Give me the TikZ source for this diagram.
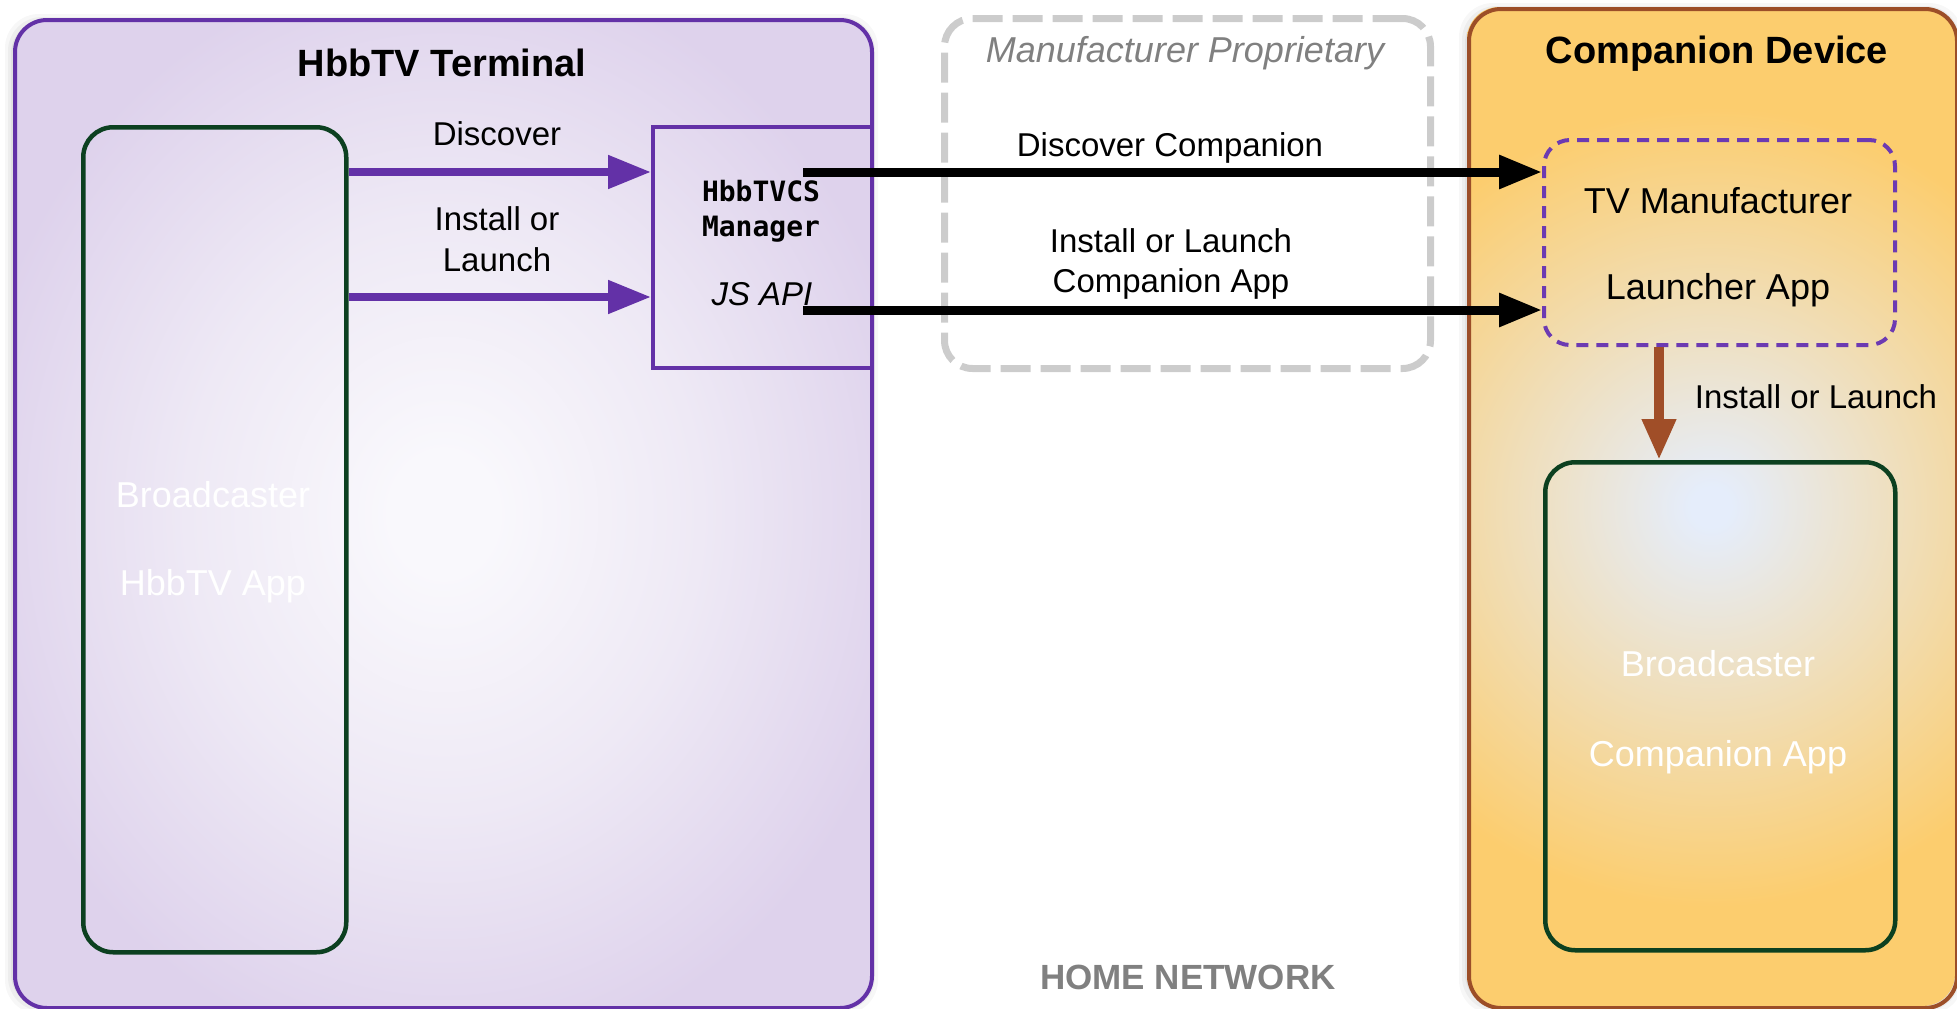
\documentclass[tikz,border=0pt]{standalone}
\usepackage{fontspec}
\setmainfont{Liberation Sans}
\newfontfamily\codefont{DejaVu Sans Mono}
\usetikzlibrary{arrows.meta}
\definecolor{pur}{RGB}{99,49,167}
\definecolor{dpur}{RGB}{108,58,178}
\definecolor{appgreen}{RGB}{12,64,32}
\definecolor{brn}{RGB}{156,78,40}
\definecolor{arrbrn}{RGB}{160,78,40}
\definecolor{lgray}{RGB}{204,204,204}
\definecolor{tgray}{RGB}{128,128,128}
\definecolor{lavin}{RGB}{249,248,252}
\definecolor{lavmid}{RGB}{238,233,245}
\definecolor{lavout}{RGB}{222,210,236}
\definecolor{orin}{RGB}{229,237,251}
\definecolor{orout}{RGB}{252,205,110}
\pgfdeclareradialshading{lavshade}{\pgfpoint{0bp}{0bp}}{color(0bp)=(lavin); color(3bp)=(lavin); color(15bp)=(lavmid); color(28bp)=(lavout); color(50bp)=(lavout)}
\pgfdeclareradialshading{orshade}{\pgfpoint{0bp}{0bp}}{color(0bp)=(orin); color(1bp)=(orin); color(20bp)=(orout); color(50bp)=(orout)}
\begin{document}
\begin{tikzpicture}[x=1pt,y=-1pt,
  outerbox/.style={draw, line width=4pt, rounded corners=32pt, inner sep=0pt, anchor=north west},
  appbox/.style={draw=appgreen, line width=4.5pt, rounded corners=30pt, inner sep=0pt, anchor=north west},
  mgrbox/.style={draw=pur, line width=4pt, inner sep=0pt, anchor=north west},
  propbox/.style={draw=lgray, line width=7pt, dash pattern=on 30pt off 10pt, rounded corners=28pt, inner sep=0pt, anchor=north west},
  launchbox/.style={draw=dpur, line width=4pt, dash pattern=on 12pt off 8pt, rounded corners=26pt, inner sep=0pt, anchor=north west},
  lbl/.style={inner sep=0pt, anchor=base, font=\fontsize{33}{40}\selectfont},
  boxtxt/.style={inner sep=0pt, anchor=base, font=\fontsize{36}{42}\selectfont},
  apptxt/.style={inner sep=0pt, anchor=base, text=white, font=\fontsize{36}{42}\selectfont},
  title/.style={inner sep=0pt, anchor=base, font=\fontsize{38}{44}\selectfont\bfseries},
  codetxt/.style={inner sep=0pt, anchor=base, font=\fontsize{28}{32}\selectfont\codefont\bfseries},
  parrow/.style={draw=pur, line width=8pt, -{Triangle[length=43pt,width=32pt]}},
  karrow/.style={draw=black, line width=9pt, -{Triangle[length=43pt,width=32pt]}},
  barrow/.style={draw=arrbrn, line width=10pt, -{Triangle[length=41pt,width=32pt]}}
]
\useasboundingbox (0,0) rectangle (1957,1009);
% soft shadows
\foreach \o/\op in {8/0.03,5/0.04,2/0.05}{
  \fill[black, opacity=\op, rounded corners=34pt] (13-\o,18-\o+4) rectangle (870+\o,1006+\o);
  \fill[black, opacity=\op, rounded corners=34pt] (1467-\o,7-\o+4) rectangle (1955+\o,1006+\o);
}
% HbbTV terminal
\node[outerbox, draw=pur, shading=lavshade, minimum width=857pt, minimum height=988pt] (term) at (13,18) {};
\node[appbox, minimum width=263pt, minimum height=825pt] (bapp) at (81,125) {};
\node[mgrbox, minimum width=219pt, minimum height=241pt] (mgr) at (651,125) {};
% manufacturer proprietary
\node[propbox, minimum width=486pt, minimum height=350pt] (prop) at (941,15) {};
% companion device: circular gradient clipped to the box
\begin{scope}
  \clip[rounded corners=32pt] (1467,7) rectangle (1955,1006);
  \shade[shading=orshade] (1211,7) rectangle (2211,1007);
\end{scope}
\node[outerbox, draw=brn, minimum width=488pt, minimum height=999pt] (comp) at (1467,7) {};
\node[launchbox, minimum width=351pt, minimum height=205pt] (launch) at (1542,138) {};
\node[appbox, minimum width=350pt, minimum height=488pt] (capp) at (1543,460) {};
% helper coordinates
\coordinate (ya) at (0,172);
\coordinate (yb) at (0,297);
\coordinate (s1) at (803,172);
\coordinate (s2) at (803,310);
\coordinate (bx) at (1659,0);
% connectors
\draw[parrow] (bapp.east |- ya) -- (mgr.west |- ya);
\draw[parrow] (bapp.east |- yb) -- (mgr.west |- yb);
\draw[karrow] (s1) -- (launch.west |- s1);
\draw[karrow] (s2) -- (launch.west |- s2);
\draw[barrow] (launch.south -| bx) -- (capp.north -| bx);
% texts
\node[title] (termT) at (442,76) {HbbTV Terminal};
\node[title] (compT) at (1717,63) {Companion Device};
\node[lbl] (disc) at (497,145) {Discover};
\node[lbl] (inst1) at (497,230) {Install or};
\node[lbl] (inst2) at (497,271) {Launch};
\node[codetxt] (mgrA) at (761,201) {HbbTVCS};
\node[codetxt] (mgrB) at (761,236) {Manager};
\node[lbl, font=\fontsize{33}{40}\selectfont\itshape] (jsapi) at (762,305) {JS API};
\node[boxtxt, text=tgray, font=\fontsize{36}{42}\selectfont\itshape] (propT) at (1185,62) {Manufacturer Proprietary};
\node[lbl] (discC) at (1170,156) {Discover Companion};
\node[lbl] (instC1) at (1171,252) {Install or Launch};
\node[lbl] (instC2) at (1171,292) {Companion App};
\node[boxtxt] (tvm1) at (1718,213) {TV Manufacturer};
\node[boxtxt] (tvm2) at (1718,299) {Launcher App};
\node[lbl] (instL) at (1816,408) {Install or Launch};
\node[apptxt] (bc1) at (213,507) {Broadcaster};
\node[apptxt] (bc2) at (213,595) {HbbTV App};
\node[apptxt] (cc1) at (1718,676) {Broadcaster};
\node[apptxt] (cc2) at (1718,766) {Companion App};
\node[title, text=tgray, font=\fontsize{35}{40}\selectfont\bfseries] (home) at (1188,989) {HOME NETWORK};
\end{tikzpicture}
\end{document}
